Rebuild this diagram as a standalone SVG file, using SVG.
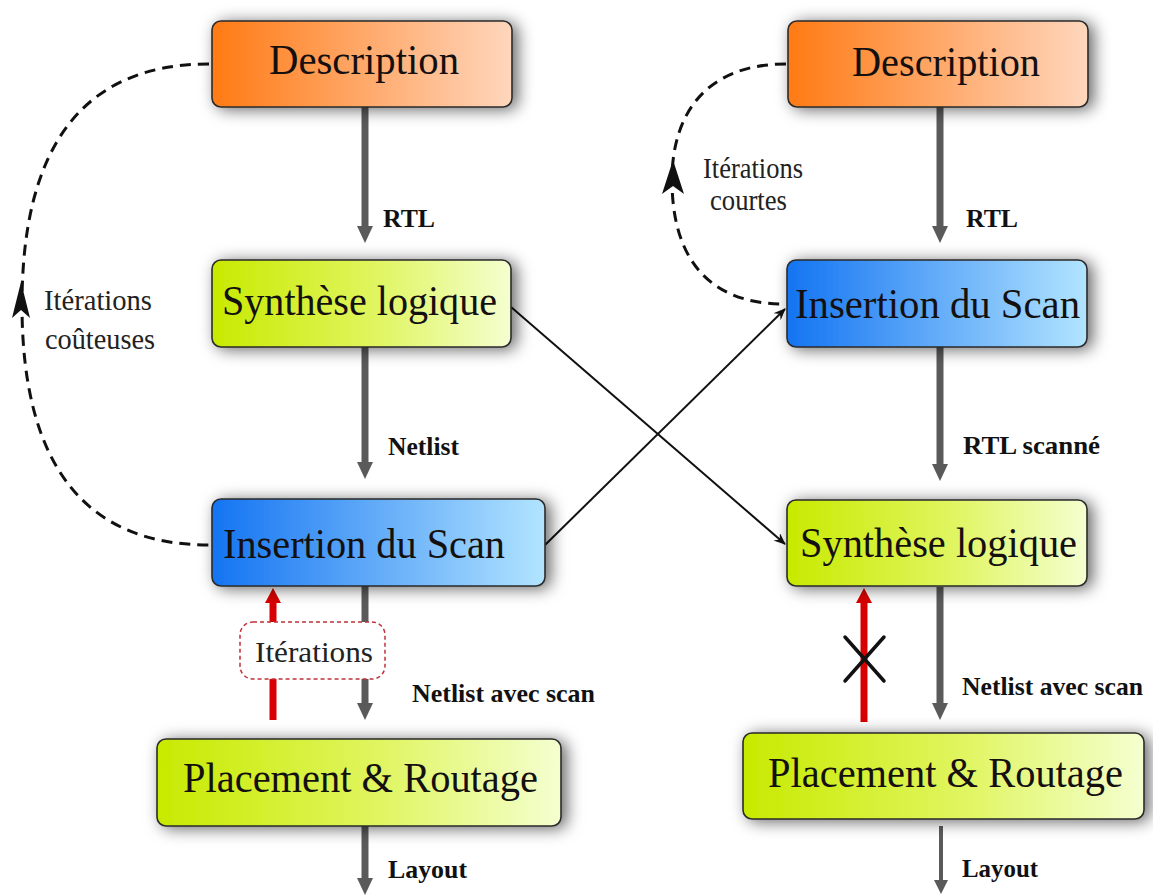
<svg xmlns="http://www.w3.org/2000/svg" width="1153" height="895" viewBox="0 0 1153 895">
<defs>
<linearGradient id="gOrange" x1="0" y1="0" x2="1" y2="0"><stop offset="0" stop-color="#ff7a14"/><stop offset="1" stop-color="#ffd6bd"/></linearGradient>
<linearGradient id="gGreen" x1="0" y1="0" x2="1" y2="0"><stop offset="0" stop-color="#c8ea00"/><stop offset="0.55" stop-color="#e0f560"/><stop offset="1" stop-color="#f4ffd0"/></linearGradient>
<linearGradient id="gBlue" x1="0" y1="0" x2="1" y2="0"><stop offset="0" stop-color="#1474f2"/><stop offset="1" stop-color="#b2e4ff"/></linearGradient>
<filter id="shadow" x="-10%" y="-30%" width="125%" height="170%"><feDropShadow dx="5" dy="2" stdDeviation="8" flood-color="#000" flood-opacity="0.6"/></filter>
<marker id="mThin" viewBox="0 0 12 10" refX="11" refY="5" markerWidth="12" markerHeight="10" markerUnits="userSpaceOnUse" orient="auto"><path d="M0,0 L12,5 L0,10 L4,5 Z" fill="#111"/></marker>
</defs>
<style>
.box{stroke:#2a2a2a;stroke-width:1.6}
text{font-family:"Liberation Serif","Tinos","Times New Roman","DejaVu Serif",serif}
.bt{font-size:43px;fill:#151010}
.lb{font-size:26px;font-weight:bold;fill:#111}
.it{font-size:30px;fill:#222}
.flow{stroke:#5a5a5a;stroke-width:7;fill:none}
.head{fill:#5a5a5a}
.red{stroke:#d80000;stroke-width:7;fill:none}
.redh{fill:#d80000}
.dash{stroke:#111;stroke-width:3;fill:none;stroke-dasharray:11 7}
.thin{stroke:#111;stroke-width:2;fill:none}
</style>
<rect width="1153" height="895" fill="#ffffff"/>

<g id="connectors">
  <line class="flow" x1="365" y1="107" x2="365" y2="228"/>
  <polygon class="head" points="357,226 373,226 365,243"/>
  <line class="flow" x1="365" y1="347" x2="365" y2="464"/>
  <polygon class="head" points="357,462 373,462 365,479"/>
  <line class="flow" x1="365" y1="586" x2="365" y2="705"/>
  <polygon class="head" points="357,703 373,703 365,720"/>
  <line class="flow" x1="365" y1="826" x2="365" y2="880"/>
  <polygon class="head" points="357,878 373,878 365,895"/>
  <line class="flow" x1="940" y1="107" x2="940" y2="228"/>
  <polygon class="head" points="932,226 948,226 940,243"/>
  <line class="flow" x1="940" y1="347" x2="940" y2="466"/>
  <polygon class="head" points="932,464 948,464 940,481"/>
  <line class="flow" x1="940" y1="587" x2="940" y2="705"/>
  <polygon class="head" points="932,703 948,703 940,720"/>
  <line class="flow" x1="941" y1="826" x2="941" y2="882" style="stroke-width:4"/>
  <polygon class="head" points="934,880 948,880 941,894"/>
  <line class="red" x1="273" y1="720" x2="273" y2="600"/>
  <polygon class="redh" points="265,603 281,603 273,588"/>
  <line class="red" x1="864" y1="722" x2="864" y2="600"/>
  <polygon class="redh" points="856,603 872,603 864,588"/>
  <path d="M845,637 L884,681 M884,637 L845,681" stroke="#111" stroke-width="3.5" fill="none" stroke-linecap="round"/>
  <line class="thin" x1="511" y1="307" x2="785" y2="544" marker-end="url(#mThin)"/>
  <line class="thin" x1="545" y1="545" x2="785" y2="309" marker-end="url(#mThin)"/>
  <path class="dash" d="M209,64 C 80,64 22,150 22,305 C 22,465 85,545 209,545"/>
  <polygon fill="#111" points="21,282 12,318 21,310 30,318"/>
  <path class="dash" d="M786,64 C 705,64 672,115 672,180 C 672,262 712,304 784,304"/>
  <polygon fill="#111" points="673,160 662,194 673,186 684,194"/>
</g>

<g id="labels">
  <text class="lb" x="383" y="227" textLength="52" lengthAdjust="spacingAndGlyphs">RTL</text>
  <text class="lb" x="388" y="455" textLength="71" lengthAdjust="spacingAndGlyphs">Netlist</text>
  <text class="lb" x="412" y="702" textLength="183" lengthAdjust="spacingAndGlyphs">Netlist avec scan</text>
  <text class="lb" x="388" y="878" textLength="79" lengthAdjust="spacingAndGlyphs">Layout</text>
  <text class="lb" x="966" y="227" textLength="52" lengthAdjust="spacingAndGlyphs">RTL</text>
  <text class="lb" x="963" y="454" textLength="137" lengthAdjust="spacingAndGlyphs">RTL scanné</text>
  <text class="lb" x="962" y="695" textLength="181" lengthAdjust="spacingAndGlyphs">Netlist avec scan</text>
  <text class="lb" x="962" y="877" textLength="76" lengthAdjust="spacingAndGlyphs">Layout</text>
  <text class="it" x="44" y="310" textLength="108" lengthAdjust="spacingAndGlyphs">Itérations</text>
  <text class="it" x="45" y="349" textLength="110" lengthAdjust="spacingAndGlyphs">coûteuses</text>
  <text class="it" x="703" y="178" textLength="100" lengthAdjust="spacingAndGlyphs">Itérations</text>
  <text class="it" x="710" y="210" textLength="77" lengthAdjust="spacingAndGlyphs">courtes</text>
</g>

<g id="iter-box">
  <rect x="240" y="622" width="145" height="57" rx="13" fill="#ffffff" stroke="#c0303a" stroke-width="1.5" stroke-dasharray="4 3"/>
  <text class="it" x="255" y="662" textLength="118" lengthAdjust="spacingAndGlyphs">Itérations</text>
</g>

<g id="desc-left">
  <rect class="box" x="212" y="21" width="300" height="86" rx="9" fill="url(#gOrange)" filter="url(#shadow)"/>
  <text class="bt" x="269" y="74" textLength="190" lengthAdjust="spacingAndGlyphs">Description</text>
</g>
<g id="synth-left">
  <rect class="box" x="212" y="260" width="299" height="87" rx="9" fill="url(#gGreen)" filter="url(#shadow)"/>
  <text class="bt" x="222" y="315" textLength="275" lengthAdjust="spacingAndGlyphs">Synthèse logique</text>
</g>
<g id="scan-left">
  <rect class="box" x="212" y="499" width="333" height="87" rx="9" fill="url(#gBlue)" filter="url(#shadow)"/>
  <text class="bt" x="223" y="558" textLength="282" lengthAdjust="spacingAndGlyphs">Insertion du Scan</text>
</g>
<g id="pr-left">
  <rect class="box" x="157" y="739" width="404" height="87" rx="9" fill="url(#gGreen)" filter="url(#shadow)"/>
  <text class="bt" x="183" y="792" textLength="355" lengthAdjust="spacingAndGlyphs">Placement &amp; Routage</text>
</g>

<g id="desc-right">
  <rect class="box" x="788" y="21" width="300" height="86" rx="9" fill="url(#gOrange)" filter="url(#shadow)"/>
  <text class="bt" x="852" y="76" textLength="188" lengthAdjust="spacingAndGlyphs">Description</text>
</g>
<g id="scan-right">
  <rect class="box" x="787" y="260" width="300" height="87" rx="9" fill="url(#gBlue)" filter="url(#shadow)"/>
  <text class="bt" x="795" y="318" textLength="285" lengthAdjust="spacingAndGlyphs">Insertion du Scan</text>
</g>
<g id="synth-right">
  <rect class="box" x="787" y="500" width="300" height="86" rx="9" fill="url(#gGreen)" filter="url(#shadow)"/>
  <text class="bt" x="800" y="557" textLength="277" lengthAdjust="spacingAndGlyphs">Synthèse logique</text>
</g>
<g id="pr-right">
  <rect class="box" x="743" y="733" width="401" height="86" rx="9" fill="url(#gGreen)" filter="url(#shadow)"/>
  <text class="bt" x="768" y="787" textLength="355" lengthAdjust="spacingAndGlyphs">Placement &amp; Routage</text>
</g>
</svg>
